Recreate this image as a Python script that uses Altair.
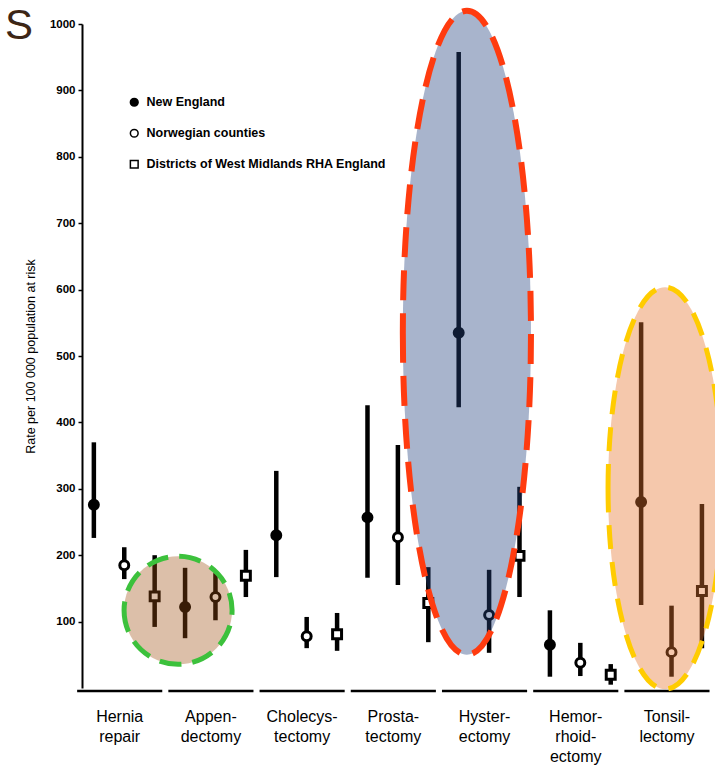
import altair as alt
import pandas as pd

# ---- data ----
procedures = ["Hernia repair", "Appendectomy", "Cholecystectomy", "Prostatectomy",
              "Hysterectomy", "Hemorrhoidectomy", "Tonsillectomy"]
proc_labels = ["Hernia|repair", "Appen-|dectomy", "Cholecys-|tectomy", "Prosta-|tectomy",
               "Hyster-|ectomy", "Hemor-|rhoid-|ectomy", "Tonsil-|lectomy"]
regions = ["New England", "Norwegian counties", "Districts of West Midlands RHA England"]

ne_mid = [276, 122, 230, 257, 535, 65, 280]
ne_lo = [226, 75, 167, 166, 423, 17, 125]
ne_hi = [370, 181, 327, 426, 958, 117, 551]

no_mid = [185, 137, 78, 227, 110, 38, 54]
no_lo = [164, 102, 60, 155, 53, 18, 17]
no_hi = [212, 173, 107, 366, 178, 68, 124]

wm_mid = [138, 169, 81, 128, 199, 20, 146]
wm_lo = [92, 137, 56, 69, 137, 5, 60]
wm_hi = [200, 208, 113, 182, 303, 36, 277]

y_ticks = [100, 200, 300, 400, 500, 600, 700, 800, 900, 1000]

# ---- build tables ----
series = [(ne_mid, ne_lo, ne_hi), (no_mid, no_lo, no_hi), (wm_mid, wm_lo, wm_hi)]
rows = []
for i, p in enumerate(procedures):
    for j, reg in enumerate(regions):
        mid, lo, hi = series[j]
        rows.append({"procedure": p, "region": reg, "slot": 3 * i + j,
                     "mid": mid[i], "lo": lo[i], "hi": hi[i]})
df = pd.DataFrame(rows)

groups = pd.DataFrame({"procedure": procedures, "label": proc_labels,
                       "g": list(range(len(procedures)))})

W, H = 633, 664
xscale = alt.Scale(domain=[-0.39, 20.43], nice=False, zero=False)
yscale = alt.Scale(domain=[0, 1000], nice=False)

base = alt.Chart(df)

ranges = base.mark_rule(strokeWidth=4.5, color="black", strokeCap="butt").encode(
    x=alt.X("slot:Q", scale=xscale, axis=None),
    y=alt.Y("lo:Q", scale=yscale,
            axis=alt.Axis(values=y_ticks, format="d", title="Rate per 100 000 population at risk",
                          grid=False, domainColor="black", domainWidth=2,
                          tickColor="black", tickSize=4, tickWidth=1.5,
                          labelFont="Liberation Sans", labelFontSize=11.5,
                          labelFontWeight="bold", labelColor="black", labelPadding=3,
                          titleFont="Liberation Sans", titleFontSize=12.5,
                          titleFontWeight="normal", titleColor="black", titlePadding=12)),
    y2="hi:Q",
)

leg = alt.Legend(title=None, orient="none", legendX=46, legendY=72)

points = base.mark_point(size=80, strokeWidth=3, opacity=1).encode(
    x=alt.X("slot:Q", scale=xscale),
    y=alt.Y("mid:Q", scale=yscale),
    shape=alt.Shape("region:N", scale=alt.Scale(domain=regions, range=["circle", "circle", "square"]),
                    legend=leg),
    fill=alt.Fill("region:N", scale=alt.Scale(domain=regions, range=["black", "white", "white"]),
                  legend=leg),
    stroke=alt.Stroke("region:N", scale=alt.Scale(domain=regions, range=["black", "black", "black"]),
                      legend=leg),
)

segments = alt.Chart(groups).transform_calculate(
    x0="3*datum.g - 0.55", x1="3*datum.g + 2.25"
).mark_rule(strokeWidth=2.5, color="black").encode(
    x=alt.X("x0:Q", scale=xscale), x2="x1:Q", y=alt.value(H + 3)
)

labels = alt.Chart(groups).transform_calculate(
    xc="3*datum.g + 0.85", lines="split(datum.label, '|')"
).mark_text(baseline="top", align="center", fontSize=16, lineHeight=20,
            font="Liberation Sans", color="black").encode(
    x=alt.X("xc:Q", scale=xscale), y=alt.value(H + 21), text="lines:N"
)

def ellipse(cx, cy, aspect, diam, fill, op, stroke, dash, sw):
    a = aspect
    path = f"M{-a},0A{a},1 0 1,0 {a},0A{a},1 0 1,0 {-a},0Z"
    d = pd.DataFrame({"cx": [cx], "cy": [cy]})
    return alt.Chart(d).mark_point(shape=path, size=diam * diam, filled=False,
                                   fill=fill, fillOpacity=op, stroke=stroke,
                                   strokeOpacity=1, strokeWidth=sw, strokeDash=dash,
                                   opacity=1).encode(
        x=alt.X("cx:Q", scale=xscale), y=alt.Y("cy:Q", scale=yscale))

e_app = ellipse(2.77, 117, 1.0, 108, "#9d4d11", 0.36, "#3cc13c", [22, 11], 5)
e_hys = ellipse(12.27, 535, 0.199, 644, "#25437f", 0.4, "#ff3b0f", [30, 13], 6)
e_ton = ellipse(18.79, 301, 0.284, 402, "#e67630", 0.4, "#ffcc00", [24, 13], 5)

title_s = alt.Chart(pd.DataFrame({"t": ["S"]})).mark_text(
    align="left", baseline="alphabetic", fontSize=42, font="Liberation Sans",
    color="#3d2616").encode(text="t:N", x=alt.value(-77), y=alt.value(15))

chart = alt.layer(ranges, points, segments, labels, e_app, e_hys, e_ton, title_s).properties(
    width=W, height=H,
    autosize=alt.AutoSizeParams(type="none"),
    padding={"left": 82, "top": 24, "right": 0, "bottom": 78},
    background="white",
).configure_view(stroke=None).configure_legend(
    symbolStrokeWidth=1.5, symbolSize=60,
    rowPadding=16, labelOffset=6, labelFont="Liberation Sans", labelFontSize=12.5,
    labelFontWeight="bold", labelColor="black", labelLimit=400,
)

chart.save("out.html", embed_options={"renderer": "svg", "actions": False})
